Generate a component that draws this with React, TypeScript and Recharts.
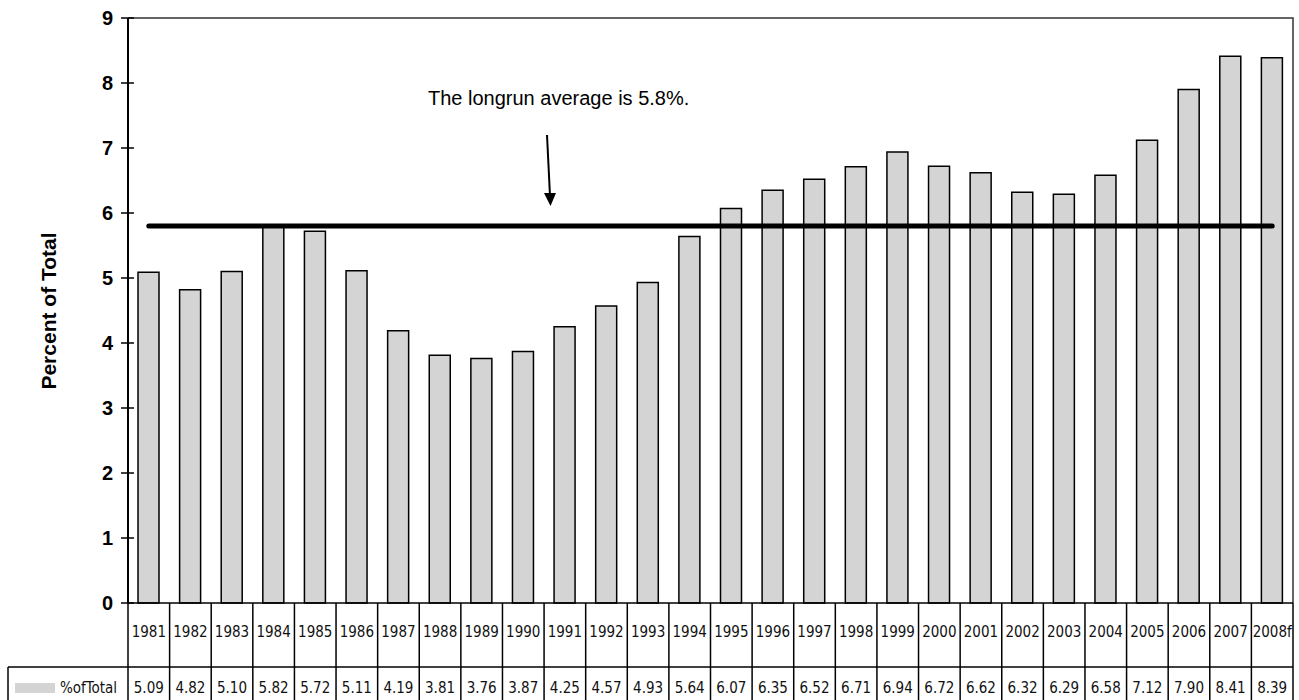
import React from "react"
import { BarChart, Bar, XAxis, YAxis, ReferenceLine, Customized } from "recharts"

const years = [
  "1981", "1982", "1983", "1984", "1985", "1986", "1987", "1988", "1989", "1990",
  "1991", "1992", "1993", "1994", "1995", "1996", "1997", "1998", "1999", "2000",
  "2001", "2002", "2003", "2004", "2005", "2006", "2007", "2008f",
]
const pctOfTotal = [
  5.09, 4.82, 5.1, 5.82, 5.72, 5.11, 4.19, 3.81, 3.76, 3.87,
  4.25, 4.57, 4.93, 5.64, 6.07, 6.35, 6.52, 6.71, 6.94, 6.72,
  6.62, 6.32, 6.29, 6.58, 7.12, 7.9, 8.41, 8.39,
]
const yTicks = [0, 1, 2, 3, 4, 5, 6, 7, 8, 9]
const longRunAverage = 5.8
const seriesName = "%ofTotal"
const note = "The longrun average is 5.8%."

const chartData = years.map((year, i) => ({ year, value: pctOfTotal[i] }))

const W = 1299
const H = 700
const PLOT_LEFT = 128
const PLOT_RIGHT = 1293
const PLOT_TOP = 18
const TABLE_H = 97
const PLOT_BOTTOM = H - TABLE_H
const ROW_SPLIT = PLOT_BOTTOM + 64
const BAND = (PLOT_RIGHT - PLOT_LEFT) / years.length
const BAR_FILL = "#d4d4d4"
const tableFont = "'Liberation Sans Narrow', 'DejaVu Sans Condensed', 'Roboto', sans-serif"
const mainFont = "'Liberation Sans', Arial, sans-serif"

function TableTick(props: any) {
  const { x, index, payload } = props
  const right = x + BAND / 2
  return (
    <g>
      {index === 0 && (
        <line x1={x - BAND / 2} y1={PLOT_BOTTOM} x2={x - BAND / 2} y2={H} stroke="#000" strokeWidth={1.5} />
      )}
      <line x1={right} y1={PLOT_BOTTOM} x2={right} y2={H} stroke="#000" strokeWidth={1.5} />
      <text x={x} y={PLOT_BOTTOM + 34} textAnchor="middle" fontFamily={tableFont} fontSize={15} fill="#111">
        {payload.value}
      </text>
      <text x={x} y={ROW_SPLIT + 26} textAnchor="middle" fontFamily={tableFont} fontSize={15} fill="#111">
        {pctOfTotal[index].toFixed(2)}
      </text>
    </g>
  )
}

function YTick(props: any) {
  const { y, payload } = props
  return (
    <g>
      <line x1={PLOT_LEFT - 7} y1={y} x2={PLOT_LEFT + 6} y2={y} stroke="#000" strokeWidth={1.5} />
      <text x={PLOT_LEFT - 15} y={y + 7} textAnchor="end" fontFamily={mainFont} fontWeight="bold" fontSize={20} fill="#000">
        {payload.value}
      </text>
    </g>
  )
}

function Extras() {
  return (
    <g>
      {/* plot frame, top and right */}
      <polyline
        points={`${PLOT_LEFT},${PLOT_TOP} ${PLOT_RIGHT},${PLOT_TOP} ${PLOT_RIGHT},${PLOT_BOTTOM}`}
        fill="none"
        stroke="#333"
        strokeWidth={1.5}
      />
      {/* table horizontal split + legend cell */}
      <line x1={8} y1={ROW_SPLIT} x2={PLOT_RIGHT} y2={ROW_SPLIT} stroke="#000" strokeWidth={1.5} />
      <line x1={8} y1={ROW_SPLIT} x2={8} y2={H} stroke="#000" strokeWidth={1.5} />
      <rect x={15} y={683} width={40} height={10} fill={BAR_FILL} />
      <text x={60} y={ROW_SPLIT + 26} fontFamily={tableFont} fontSize={15} fill="#111">
        {seriesName}
      </text>
      {/* axis title */}
      <text
        x={56}
        y={311}
        transform="rotate(-90 56 311)"
        textAnchor="middle"
        fontFamily={mainFont}
        fontWeight="bold"
        fontSize={21}
        fill="#000"
      >
        Percent of Total
      </text>
      {/* annotation */}
      <text x={428} y={105} fontFamily={mainFont} fontSize={20} fill="#000">
        {note}
      </text>
      <line x1={547} y1={135} x2={550} y2={196} stroke="#000" strokeWidth={2} />
      <polygon points="544,193 556,193 550.5,206" fill="#000" />
    </g>
  )
}

export default function App() {
  return (
    <div style={{ position: "absolute", left: 0, top: 0, background: "#fff" }}>
      <BarChart
        width={W}
        height={H}
        data={chartData}
        margin={{ top: PLOT_TOP, right: W - PLOT_RIGHT, bottom: 0, left: 68 }}
        barSize={21}
      >
        <XAxis
          dataKey="year"
          interval={0}
          height={TABLE_H}
          tickLine={false}
          axisLine={{ stroke: "#000", strokeWidth: 1.5 }}
          tick={<TableTick />}
        />
        <YAxis
          domain={[0, 9]}
          ticks={yTicks}
          width={60}
          interval={0}
          tickLine={false}
          axisLine={{ stroke: "#000", strokeWidth: 2 }}
          tick={<YTick />}
        />
        <Bar dataKey="value" fill={BAR_FILL} stroke="#000" strokeWidth={1.5} barSize={21} isAnimationActive={false} />
        <ReferenceLine
          segment={[
            { x: years[0], y: longRunAverage },
            { x: years[years.length - 1], y: longRunAverage },
          ]}
          stroke="#000"
          strokeWidth={5}
          strokeLinecap="round"
        />
        <Customized component={Extras} />
      </BarChart>
    </div>
  )
}
